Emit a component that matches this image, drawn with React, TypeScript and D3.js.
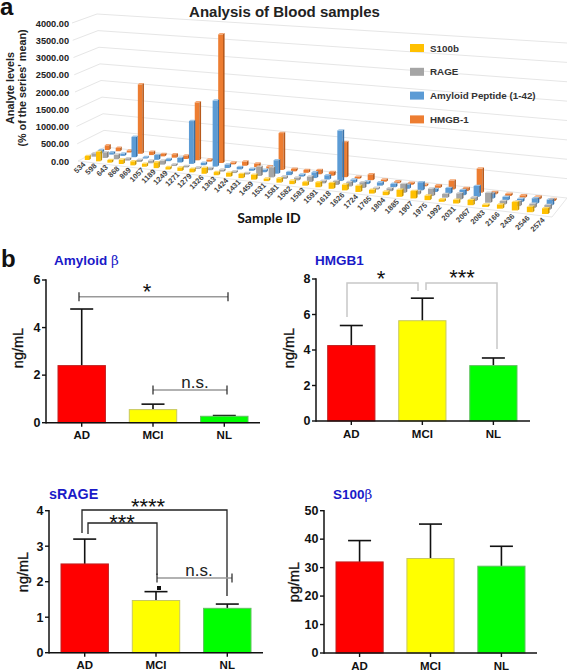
import React from "react";
import * as d3 from "d3";

const sampleIds = ["534","598","643","868","869","1057","1189","1249","1271","1279","1326","1363","1424","1431","1459","1531","1581","1582","1583","1591","1618","1626","1724","1765","1804","1885","1907","1975","1992","2031","2067","2083","2166","2436","2546","2574"];
const s100b = [120,280,80,130,120,90,170,70,100,100,170,90,110,120,140,70,120,100,100,140,160,160,170,100,100,190,200,120,70,100,140,60,110,220,140,150];
const rage = [100,170,140,70,60,80,120,50,40,40,60,60,50,40,260,280,70,80,150,70,110,120,160,50,80,240,90,200,100,160,100,260,90,130,110,120];
const amyloid = [100,70,70,600,40,140,60,140,1240,70,1900,100,70,60,70,380,90,60,160,120,1400,80,70,90,90,110,220,80,150,140,290,130,90,80,140,150];
const hmgb = [140,100,60,2050,100,70,100,100,1680,60,3700,50,120,100,60,1040,70,80,120,100,970,50,160,60,50,50,50,70,240,80,640,60,60,60,70,50];
const series3d = [
  { name: "HMGB-1", values: hmgb, depth: 1, color: "#ED7D31", side: "#B85A1C", top: "#F4A672" },
  { name: "Amyloid Peptide (1-42)", values: amyloid, depth: 2 / 3, color: "#5B9BD5", side: "#3A72A8", top: "#9CC3E6" },
  { name: "RAGE", values: rage, depth: 1 / 3, color: "#A5A5A5", side: "#7C7C7C", top: "#CFCFCF" },
  { name: "S100b", values: s100b, depth: 0, color: "#FFC000", side: "#C99600", top: "#FFD966" },
];
const legendOrder = ["S100b", "RAGE", "Amyloid Peptide (1-42)", "HMGB-1"];
const ticks3d = [0, 500, 1000, 1500, 2000, 2500, 3000, 3500, 4000];

const groups = ["AD", "MCI", "NL"];
const groupFill = ["#FF0000", "#FFFF00", "#00FF00"];
const groupStroke = ["#C02020", "#C8C860", "#60C060"];
const amyMeans = [2.4, 0.55, 0.27];
const amyTops = [4.78, 0.78, 0.3];
const hmgMeans = [4.25, 5.65, 3.12];
const hmgTops = [5.38, 6.92, 3.55];
const ragMeans = [2.5, 1.47, 1.25];
const ragTops = [3.2, 1.72, 1.37];
const s10Means = [32, 33.2, 30.5];
const s10Tops = [39.5, 45.3, 37.5];

const FONT = "'Liberation Sans', Arial, sans-serif";

// floor projection of the 3D chart
const kPersp = 1.167;
const persp = (t: number) => t / (t + (1 - t) * kPersp);
const uOf = d3.scaleLinear().domain([0, sampleIds.length - 1]).range([0, 1]);
const frontX = d3.scaleLinear().domain([0, 1]).range([87, 545]);
const frontY = d3.scaleLinear().domain([0, 1]).range([160, 214]);
const backX = d3.scaleLinear().domain([0, 1]).range([107, 552]);
const backY = d3.scaleLinear().domain([0, 1]).range([150, 201]);
const unitH = d3.scaleLinear().domain([0, 1]).range([0.0335, 0.0385]);

function floor(i: number, depth: number) {
  const f = persp(uOf(i));
  return {
    f,
    x: frontX(f) + (backX(f) - frontX(f)) * depth,
    y: frontY(f) + (backY(f) - frontY(f)) * depth,
  };
}

function Bar3D({ i, v, depth, color, side, top }: any) {
  const { f, x, y } = floor(i, depth);
  const h = v * unitH(f);
  const w = 4.4 + 1.6 * f;
  const dx = 1.6;
  const dy = 1.3;
  const l = x - w / 2;
  const r = x + w / 2;
  const t = y - h;
  return (
    <g>
      <rect x={l} y={t} width={w} height={h} fill={color} />
      <polygon points={`${r},${t} ${r + dx},${t - dy} ${r + dx},${y - dy} ${r},${y}`} fill={side} />
      <polygon points={`${l},${t} ${l + dx},${t - dy} ${r + dx},${t - dy} ${r},${t}`} fill={top} />
    </g>
  );
}

function Chart3D() {
  const wallY = d3.scaleLinear().domain([0, 4000]).range([161, 23]);
  const wallX = d3.scaleLinear().domain([0, 4000]).range([78, 72]);
  const cornerY = d3.scaleLinear().domain([0, 4000]).range([147, 14]);
  const cornerX = d3.scaleLinear().domain([0, 4000]).range([105, 97]);
  const endY = d3.scaleLinear().domain([0, 4000]).range([198, 43]);
  const line = d3.line();
  return (
    <g>
      {ticks3d.map((v) => (
        <path key={v} fill="none" stroke="#E6E6E6" strokeWidth={1}
          d={line([[wallX(v), wallY(v)], [cornerX(v), cornerY(v)], [567, endY(v)]]) as string} />
      ))}
      <path fill="none" stroke="#E6E6E6" d={line([[78, 161], [552, 217], [567, 198]]) as string} />
      {ticks3d.map((v) => (
        <text key={v} x={69} y={wallY(v) + 3.5} textAnchor="end" fontSize={9.2} fontWeight="bold" fill="#222">{v.toFixed(2)}</text>
      ))}
      <text transform="translate(14,88) rotate(-90)" textAnchor="middle" fontSize={10.8} fontWeight="bold" fill="#222">Analyte levels</text>
      <text transform="translate(26,88) rotate(-90)" textAnchor="middle" fontSize={10.8} fontWeight="bold" fill="#222">(% of the series' mean)</text>
      <text x={284.5} y={17} textAnchor="middle" fontSize={15} fontWeight="bold" fill="#222">Analysis of Blood samples</text>
      {series3d.map((s) => (
        <g key={s.name}>
          {s.values.map((v, i) => (
            <Bar3D key={i} i={i} v={v} depth={s.depth} color={s.color} side={s.side} top={s.top} />
          ))}
        </g>
      ))}
      {sampleIds.map((id, i) => {
        const { f, x, y } = floor(i, 0);
        return (
          <text key={id} transform={`translate(${x - 7},${y + 8 + 3 * f}) rotate(-45)`} textAnchor="middle" dominantBaseline="middle"
            fontSize={7.5} fontWeight="bold" fill="#444">{id}</text>
        );
      })}
      <text x={269} y={223} textAnchor="middle" fontFamily="Lato, sans-serif" fontSize={14} fontWeight="bold" fill="#111">Sample ID</text>
      {legendOrder.map((name, k) => {
        const s = series3d.find((d) => d.name === name)!;
        const y = 48 + k * 23.8;
        return (
          <g key={name}>
            <rect x={410} y={y - 4} width={14} height={8} fill={s.color} />
            <text x={430} y={y + 3.5} fontSize={9.8} fontWeight="bold" fill="#333">{name}</text>
          </g>
        );
      })}
    </g>
  );
}

function Stars({ x, cy, n, size = 22 }: any) {
  return <text x={x} y={cy + size * 0.5} textAnchor="middle" fontSize={size} fill="#111">{"*".repeat(n)}</text>;
}

function Panel({ p, means, tops, children }: any) {
  const y = d3.scaleLinear().domain([0, p.max]).range([p.y0, p.yTop]);
  const x = d3.scaleBand().domain(groups).range([p.x0, p.x1]).paddingInner(p.padIn).paddingOuter(0);
  const bw = x.bandwidth();
  return (
    <g>
      {means.map((m: number, i: number) => {
        const g = groups[i];
        const cx = x(g)! + bw / 2;
        return (
          <g key={g}>
            <line x1={cx} x2={cx} y1={y(m)} y2={y(tops[i])} stroke="#111" strokeWidth={1.6} />
            <line x1={cx - 11.5} x2={cx + 11.5} y1={y(tops[i])} y2={y(tops[i])} stroke="#111" strokeWidth={1.6} />
            <rect x={x(g)} y={y(m)} width={bw} height={y(0) - y(m)} fill={groupFill[i]} stroke={groupStroke[i]} strokeWidth={1} />
            <line x1={cx} x2={cx} y1={p.y0} y2={p.y0 + 4} stroke="#111" strokeWidth={1.4} />
            <text x={cx} y={p.y0 + 16.5} textAnchor="middle" fontSize={11.5} fontWeight="bold" fill="#111">{g}</text>
          </g>
        );
      })}
      <line x1={p.axisX} x2={p.axisX} y1={p.yTop - 0.7} y2={p.y0 + 0.7} stroke="#111" strokeWidth={1.5} />
      <line x1={p.axisX} x2={p.axisEnd} y1={p.y0} y2={p.y0} stroke="#111" strokeWidth={1.5} />
      {y.ticks(p.nTicks).map((t) => (
        <g key={t}>
          <line x1={p.axisX - 4} x2={p.axisX} y1={y(t)} y2={y(t)} stroke="#111" strokeWidth={1.4} />
          <text x={p.axisX - 5.5} y={y(t) + 4.3} textAnchor="end" fontSize={12.5} fontWeight="bold" fill="#111">{t}</text>
        </g>
      ))}
      <text transform={`translate(${p.labelX},${p.labelY}) rotate(-90)`} textAnchor="middle" fontSize={14.5} fill="#111" stroke="#111" strokeWidth={0.3}>{p.unit}</text>
      <text x={p.titleX} y={p.titleY} fontSize={p.titleSize} fontWeight="bold" fill="#1A1AC8">
        {p.title}
        {p.beta ? <tspan fontFamily="'DejaVu Serif', serif" fontWeight="normal">β</tspan> : null}
      </text>
      {children}
    </g>
  );
}

function Cap({ x1, x2, y, color = "#999" }: any) {
  return (
    <g>
      <line x1={x1} x2={x2} y1={y} y2={y} stroke={color} strokeWidth={1.5} />
      <line x1={x1} x2={x1} y1={y - 4.5} y2={y + 4.5} stroke="#222" strokeWidth={1.2} />
      <line x1={x2} x2={x2} y1={y - 4.5} y2={y + 4.5} stroke="#222" strokeWidth={1.2} />
    </g>
  );
}

function Bracket({ x1, x2, top, l, r, color, w }: any) {
  return <path fill="none" stroke={color} strokeWidth={w} d={d3.line()([[x1, l], [x1, top], [x2, top], [x2, r]]) as string} />;
}

const nsStyle = { fontSize: 17, fill: "#222", textAnchor: "middle" } as any;

const layouts = {
  amy: { max: 6, nTicks: 3, y0: 422.7, yTop: 280, x0: 58, x1: 248, padIn: 0.335, axisX: 46, axisEnd: 260, unit: "ng/mL", labelX: 23, labelY: 348, title: "Amyloid ", beta: true, titleX: 54, titleY: 265, titleSize: 13.5 },
  hmg: { max: 8, nTicks: 4, y0: 421, yTop: 279, x0: 327.7, x1: 517, padIn: 0.335, axisX: 316, axisEnd: 530, unit: "ng/mL", labelX: 294, labelY: 348, title: "HMGB1", beta: false, titleX: 315, titleY: 265, titleSize: 13.5 },
  rag: { max: 4, nTicks: 4, y0: 652.7, yTop: 510.7, x0: 61, x1: 251, padIn: 0.335, axisX: 49, axisEnd: 263, unit: "ng/mL", labelX: 28, labelY: 572, title: "sRAGE", beta: false, titleX: 49, titleY: 499, titleSize: 14.3 },
  s10: { max: 50, nTicks: 5, y0: 653, yTop: 510.7, x0: 336, x1: 525, padIn: 0.335, axisX: 324, axisEnd: 537, unit: "pg/mL", labelX: 299, labelY: 582, title: "S100", beta: true, titleX: 333, titleY: 499, titleSize: 13.5 },
};

export default function App() {
  return (
    <svg width={567} height={670} style={{ position: "absolute", left: 0, top: 0, background: "#fff", fontFamily: FONT }}>
      <text x={0} y={15} fontSize={24} fontWeight="bold" fill="#111">a</text>
      <text x={1} y={267} fontSize={24} fontWeight="bold" fill="#111">b</text>
      <Chart3D />
      <Panel p={layouts.amy} means={amyMeans} tops={amyTops}>
        <Cap x1={79} x2={228} y={296.7} />
        <Stars x={147} cy={288} n={1} />
        <Cap x1={153} x2={227} y={390} />
        <text x={195} y={388} {...nsStyle}>n.s.</text>
      </Panel>
      <Panel p={layouts.hmg} means={hmgMeans} tops={hmgTops}>
        <Bracket x1={347} x2={418} top={283} l={317} r={291} color="#C8C8C8" w={1.5} />
        <Bracket x1={426} x2={497} top={283} l={290} r={349} color="#C8C8C8" w={1.5} />
        <Stars x={381} cy={275} n={1} />
        <Stars x={462} cy={274} n={3} />
      </Panel>
      <Panel p={layouts.rag} means={ragMeans} tops={ragTops}>
        <Bracket x1={82} x2={227} top={510} l={533} r={596} color="#222" w={1.3} />
        <Bracket x1={88} x2={157} top={523} l={534} r={575} color="#222" w={1.3} />
        <Cap x1={157} x2={232} y={578} />
        <text x={199} y={576} {...nsStyle}>n.s.</text>
        <rect x={157} y={586} width={4} height={4} fill="#111" />
        <Stars x={148} cy={503} n={4} />
        <Stars x={122} cy={519} n={3} />
      </Panel>
      <Panel p={layouts.s10} means={s10Means} tops={s10Tops} />
    </svg>
  );
}
